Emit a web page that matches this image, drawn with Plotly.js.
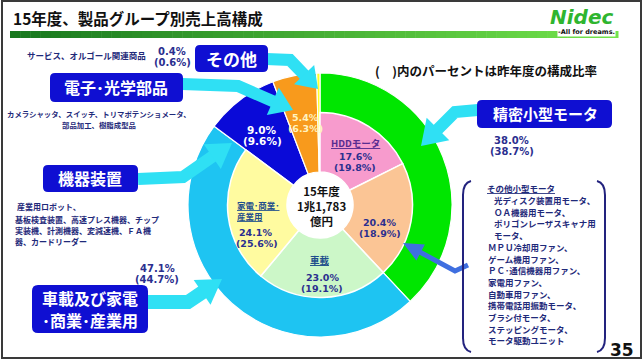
<!DOCTYPE html>
<html><head><meta charset="utf-8">
<script src="https://cdn.plot.ly/plotly-3.0.1.min.js"></script>
<style>html,body{margin:0;padding:0;background:#fff}#chart{width:644px;height:362px}</style>
</head><body><div id="chart"></div>
<script>
// ---- data ----
const innerLabels = ['HDDモータ','その他小型モータ','車載','家電･商業･産業用','機器装置','電子･光学部品','その他'];
const innerCur  = [17.6, 20.4, 23.0, 24.1, 9.0, 5.4, 0.4];
const innerPrev = [19.8, 18.9, 19.1, 25.6, 9.6, 6.3, 0.6];
const outerLabels = ['精密小型モータ','車載及び家電･商業･産業用','機器装置','電子･光学部品','その他'];
const outerCur  = [38.0, 47.1, 9.0, 5.4, 0.4];
const outerPrev = [38.7, 44.7, 9.6, 6.3, 0.6];
const centerText = ['15年度','1兆1,783','億円'];
const titleText = '15年度、製品グループ別売上高構成';
const noteText = '(　)内のパーセントは昨年度の構成比率';
const otherMotorItems = ['光ディスク装置用モータ、','ＯＡ機器用モータ、','ポリゴンレーザスキャナ用','モータ、','ＭＰＵ冷却用ファン、','ゲーム機用ファン、','ＰＣ･通信機器用ファン、','家電用ファン、','自動車用ファン、','携帯電話用振動モータ、','ブラシ付モータ、','ステッピングモータ、','モータ駆動ユニット'];
const kikiItems = ['産業用ロボット、','基板検査装置、高速プレス機器、チップ','実装機、計測機器、変減速機、ＦＡ機','器、カードリーダー'];
const denshiItems = ['カメラシャッタ、スイッチ、トリマポテンショメータ、','部品加工、樹脂成型品'];
const sonotaItems = ['サービス、オルゴール関連商品'];

// ---- helpers ----
const W=644,H=362;
const px=x=>x/W, py=y=>1-y/H;
const JP='Noto Sans CJK JP', NUM='DejaVu Sans';
const NAVY='#2b2f8f';
const pct=v=>v.toFixed(1)+'%';
const ppct=v=>'('+v.toFixed(1)+'%)';
const ann=[];
function lbl(x,y,text,o){
  o=o||{};
  ann.push({xref:'paper',yref:'paper',x:px(x),y:py(y),text:text,showarrow:false,
    xanchor:o.xa||'center',yanchor:'middle',align:o.xa||'center',
    bgcolor:o.bg,borderpad:0,
    font:{family:o.f||JP,size:o.s||10,color:o.c||NAVY,weight:o.w||'bold',style:o.st||'normal'}});
}
const shapes=[];
function P(x,y){return px(x).toFixed(5)+','+py(y).toFixed(5);}
function rrect(x0,y0,x1,y1,r,fill){
  const d='M'+P(x0+r,y0)+' L'+P(x1-r,y0)+' Q'+P(x1,y0)+' '+P(x1,y0+r)+' L'+P(x1,y1-r)+' Q'+P(x1,y1)+' '+P(x1-r,y1)+
    ' L'+P(x0+r,y1)+' Q'+P(x0,y1)+' '+P(x0,y1-r)+' L'+P(x0,y0+r)+' Q'+P(x0,y0)+' '+P(x0+r,y0)+' Z';
  shapes.push({type:'path',xref:'paper',yref:'paper',path:d,fillcolor:fill,line:{width:0},layer:'above'});
}
function arrow(pts,L,Wd,w,color){
  const n=pts.length,t=pts[n-1],p=pts[n-2];
  const dx=t[0]-p[0],dy=t[1]-p[1],len=Math.hypot(dx,dy),ux=dx/len,uy=dy/len;
  const b=[t[0]-ux*L,t[1]-uy*L],nx=-uy,ny=ux;
  let d='M'+P(pts[0][0],pts[0][1]);
  for(let i=1;i<n-1;i++) d+=' L'+P(pts[i][0],pts[i][1]);
  d+=' L'+P(b[0]+ux*2,b[1]+uy*2);
  shapes.push({type:'path',xref:'paper',yref:'paper',path:d,fillcolor:'rgba(0,0,0,0)',line:{color:color,width:w},layer:'above'});
  const h='M'+P(t[0],t[1])+' L'+P(b[0]+nx*Wd/2,b[1]+ny*Wd/2)+' L'+P(b[0]-nx*Wd/2,b[1]-ny*Wd/2)+' Z';
  shapes.push({type:'path',xref:'paper',yref:'paper',path:h,fillcolor:color,line:{width:0},layer:'above'});
}

// ---- slide decoration ----
const segs=60, bx0=10, bx1=618;
const c0=[24,120,30], c1=[115,228,75];
for(let i=0;i<segs;i++){
  const t=i/(segs-1);
  const c=c0.map((v,k)=>Math.round(v+(c1[k]-v)*t));
  shapes.push({type:'rect',xref:'paper',yref:'paper',x0:px(bx0+(bx1-bx0)*i/segs),x1:px(bx0+(bx1-bx0)*(i+1)/segs+0.5),
    y0:py(38),y1:py(31),fillcolor:'rgb('+c.join(',')+')',line:{width:0},layer:'below'});
}
shapes.push({type:'rect',xref:'paper',yref:'paper',x0:px(2),x1:px(641),y0:py(358),y1:py(1),line:{color:'#3a3a3a',width:2},fillcolor:'rgba(0,0,0,0)',layer:'above'});

const CY='#2fe0f4';
arrow([[266,59],[290,60],[318,89]],20,28,12,CY);
arrow([[182,84],[238,86],[293,110]],22,30,12,CY);
arrow([[138,179],[183,177],[232,143]],24,30,12,CY);
arrow([[148,302],[188,302],[222,279]],24,30,14,CY);
arrow([[478,110],[455,112],[421,146]],24,32,12,CY);
arrow([[468,265],[455,271],[403,243]],20,18,5,'#3f6fe0');

const BL='#0f0fd2';
rrect(195,45,268,72,5,BL);
rrect(50,73,183,102,5,BL);
rrect(43,165,138,192,5,BL);
rrect(32,285,148,333,6,BL);
rrect(477,100,612,128,5,BL);

shapes.push({type:'path',xref:'paper',yref:'paper',line:{color:'#23237e',width:2},fillcolor:'rgba(0,0,0,0)',
  path:'M'+P(471,181)+' Q'+P(463,183)+' '+P(463,195)+' L'+P(463,338)+' Q'+P(463,350)+' '+P(471,352)});
shapes.push({type:'path',xref:'paper',yref:'paper',line:{color:'#23237e',width:2},fillcolor:'rgba(0,0,0,0)',
  path:'M'+P(597,181)+' Q'+P(605,183)+' '+P(605,195)+' L'+P(605,338)+' Q'+P(605,350)+' '+P(597,352)});

// ---- texts ----
lbl(12,18,titleText,{xa:'left',s:15.5,c:'#111'});
lbl(581,17,'Nidec',{f:NUM,s:20,c:'#2fb52f',w:900,st:'italic'});
lbl(586,32,'-All for dreams.',{f:NUM,s:6.5,c:'#111',bg:'#ffffff'});
lbl(486,70,noteText,{s:12.5,c:'#111'});
lbl(622,350,'35',{f:NUM,s:17,c:'#111'});

lbl(231,58,outerLabels[4],{s:17,c:'#fff'});
lbl(116,87,outerLabels[3],{s:16,c:'#fff'});
lbl(90,178,outerLabels[2],{s:16,c:'#fff'});
lbl(90,298,'車載及び家電',{s:16,c:'#fff'});
lbl(90,320,'･商業･産業用',{s:16,c:'#fff'});
lbl(545,114,outerLabels[0],{s:15,c:'#fff'});

lbl(86,55,sonotaItems[0],{s:8.5,c:'#1f2a7a'});
denshiItems.forEach((t,i)=>lbl(99,113+i*11,t,{s:7.4,c:'#1f2a7a'}));
const kY=[206,219.5,230.5,241.5];
kikiItems.forEach((t,i)=>lbl(i==0?16:14,kY[i],t,{xa:'left',s:8,c:'#1f2a7a'}));
lbl(486,188,'<u>その他小型モータ</u>',{xa:'left',s:8.5,c:'#1f2a7a'});
otherMotorItems.forEach((t,i)=>lbl(i<4?493:487,200+i*11.7,t,{xa:'left',s:8.5,c:'#1f2a7a'}));

lbl(172,51,pct(outerCur[4]),{f:NUM,s:10});
lbl(172,62,ppct(outerPrev[4]),{f:NUM,s:10});
lbl(157,268,pct(outerCur[1]),{f:NUM,s:10});
lbl(157,279,ppct(outerPrev[1]),{f:NUM,s:10});
lbl(512,140,pct(outerCur[0]),{f:NUM,s:10});
lbl(512,151,ppct(outerPrev[0]),{f:NUM,s:10});
lbl(262,130,pct(outerCur[2]),{f:NUM,s:10.5,c:'#fff'});
lbl(262,141,ppct(outerPrev[2]),{f:NUM,s:10.5,c:'#fff'});
lbl(305,118,pct(outerCur[3]),{f:NUM,s:9.5,c:'#fff3c0'});
lbl(305,128,ppct(outerPrev[3]),{f:NUM,s:9.5,c:'#fff3c0'});

lbl(355,143,'<u>'+innerLabels[0]+'</u>',{s:9.5,c:'#5a2d91'});
lbl(355,157,pct(innerCur[0]),{f:NUM,s:9.5});
lbl(355,168,ppct(innerPrev[0]),{f:NUM,s:9.5});
lbl(379,222,pct(innerCur[1]),{f:NUM,s:9.5});
lbl(380,233,ppct(innerPrev[1]),{f:NUM,s:9.5});
lbl(320,260,'<u>'+innerLabels[2]+'</u>',{s:9.5,c:'#1f4e8c'});
lbl(322,277,pct(innerCur[2]),{f:NUM,s:9.5});
lbl(322,288,ppct(innerPrev[2]),{f:NUM,s:9.5});
lbl(236,205,'<u>家電･商業･</u>',{xa:'left',s:8.5,c:'#1f4e8c'});
lbl(236,216,'<u>産業用</u>',{xa:'left',s:8.5,c:'#1f4e8c'});
lbl(256,232,pct(innerCur[3]),{f:NUM,s:9.5});
lbl(257,243,ppct(innerPrev[3]),{f:NUM,s:9.5});

lbl(321,206,centerText.join('<br>'),{s:11.5,c:'#111'});

// ---- pies ----
const cx=320, cy=205, rO=132, rI=92.5, rH=33;
const outer={type:'pie',labels:outerLabels,values:outerCur,sort:false,direction:'clockwise',rotation:0,
  hole:rH/rO,textinfo:'none',hoverinfo:'none',showlegend:false,
  marker:{colors:['#00e600','#1ec4f2','#0a0ad8','#f89a1c','#ffff24'],line:{color:'#ffffff',width:1.2}},
  domain:{x:[px(cx-rO),px(cx+rO)],y:[py(cy+rO),py(cy-rO)]}};
const inner={type:'pie',labels:innerLabels,values:innerCur,sort:false,direction:'clockwise',rotation:0,
  hole:rH/rI,textinfo:'none',hoverinfo:'none',showlegend:false,
  marker:{colors:['#f79bcd','#fbc595','#ccf7c8','#fffba0','rgba(0,0,0,0)','rgba(0,0,0,0)','rgba(0,0,0,0)'],
    line:{color:'#ffffff',width:[1.5,1.5,1.5,1.5,0,0,0]}},
  domain:{x:[px(cx-rI),px(cx+rI)],y:[py(cy+rI),py(cy-rI)]}};

Plotly.newPlot('chart',[outer,inner],{
  width:W,height:H,margin:{l:0,r:0,t:0,b:0},paper_bgcolor:'#ffffff',
  shapes:shapes,annotations:ann,showlegend:false
},{staticPlot:true,displayModeBar:false});
</script></body></html>
